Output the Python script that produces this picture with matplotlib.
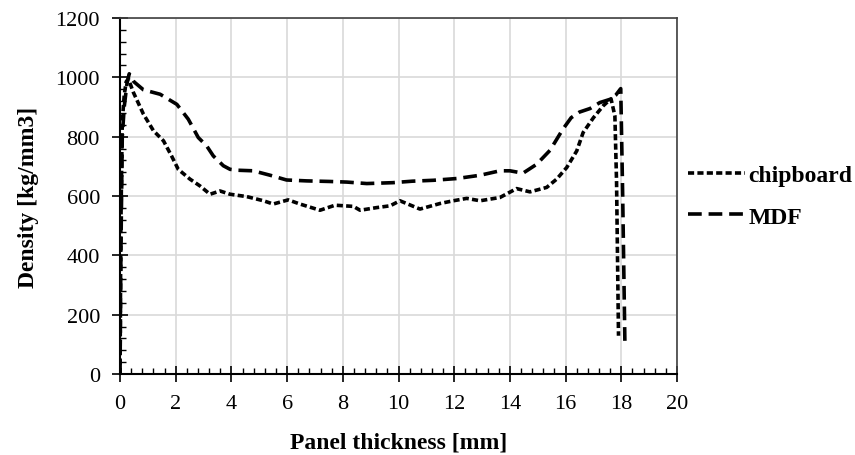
import matplotlib.pyplot as plt
from matplotlib.ticker import MultipleLocator

# density profiles
chip_x = [0.0, 0.03, 0.08, 0.15, 0.22, 0.3, 0.48, 0.84, 1.2, 1.56, 1.85, 2.09, 2.51, 2.87,
          3.23, 3.59, 3.95, 4.55, 5.15, 5.5, 6.04, 6.46, 7.18, 7.72, 8.38, 8.62, 9.22,
          9.7, 10.05, 10.77, 11.5, 11.97, 12.45, 12.93, 13.64, 14.24, 14.72, 15.32,
          15.68, 16.04, 16.4, 16.63, 17.0, 17.35, 17.63, 17.77, 17.83, 17.9]
chip_y = [0, 500, 850, 940, 985, 995, 949, 876, 820, 786, 735, 690, 657, 634,
          606, 617, 606, 598, 584, 573, 587, 573, 552, 569, 565, 552, 561,
          567, 584, 556, 575, 584, 592, 584, 595, 625, 614, 629,
          657, 696, 752, 814, 864, 904, 928, 870, 646, 129]

mdf_x = [0.0, 0.03, 0.08, 0.15, 0.25, 0.33, 0.5, 0.84, 1.44, 2.04, 2.45, 2.81, 3.11, 3.35,
         3.71, 3.95, 4.19, 4.78, 5.39, 5.98, 6.7, 7.54, 8.14, 8.86, 9.8, 10.5,
         11.25, 12.1, 12.93, 13.64, 14.0, 14.47, 14.96, 15.44, 15.9, 16.2, 16.5,
         16.88, 17.23, 17.6, 17.8, 17.98, 18.05, 18.13]
mdf_y = [0, 400, 800, 900, 980, 1012, 985, 958, 943, 909, 859, 797, 769, 735,
         702, 690, 687, 685, 670, 654, 651, 649, 647, 642, 645, 650,
         653, 659, 670, 685, 685, 677, 707, 754, 825, 864, 883,
         895, 915, 926, 940, 962, 600, 101]

plt.rcParams['font.family'] = ['Liberation Serif', 'DejaVu Serif']

fig = plt.figure(figsize=(8.55, 4.56), dpi=100)
ax = fig.add_axes([0.1404, 0.1776, 0.6514, 0.7807])

l1, = ax.plot(chip_x, chip_y, color='black', lw=2.6, linestyle=(0, (1.7, 0.9)), label='chipboard')
l2, = ax.plot(mdf_x, mdf_y, color='black', lw=2.6, linestyle=(0, (3.8, 1.9)), label='MDF')

ax.set_xlim(0, 20)
ax.set_ylim(0, 1200)
ax.xaxis.set_major_locator(MultipleLocator(2))
ax.xaxis.set_minor_locator(MultipleLocator(0.4))
ax.yaxis.set_major_locator(MultipleLocator(200))
ax.yaxis.set_minor_locator(MultipleLocator(40))
ax.tick_params(which='major', direction='inout', length=11, width=1.2, labelsize=16, colors='black')
ax.tick_params(axis='y', which='major', pad=9)
ax.tick_params(axis='x', which='major', pad=9)
ax.tick_params(which='minor', direction='in', length=4, width=1.0)
ax.grid(True, which='major', color='#d9d9d9', lw=1.2)
ax.set_axisbelow(True)
for s in ['top', 'right']:
    ax.spines[s].set_color('#404040')
    ax.spines[s].set_linewidth(1.2)
for s in ['left', 'bottom']:
    ax.spines[s].set_color('black')
    ax.spines[s].set_linewidth(1.5)

ax.set_xlabel('Panel thickness [mm]', fontsize=17, fontweight='bold', labelpad=13)
ax.set_ylabel('Density [kg/mm3]', fontsize=17, fontweight='bold', labelpad=12)

fig.legend(handles=[l1, l2], loc='upper left', bbox_to_anchor=(0.805, 0.637), frameon=False,
           prop={'weight': 'bold', 'size': 17}, handlelength=2.4, handletextpad=0.15,
           labelspacing=0.85, borderpad=0, borderaxespad=0)

fig.savefig('out.png', dpi=100)
